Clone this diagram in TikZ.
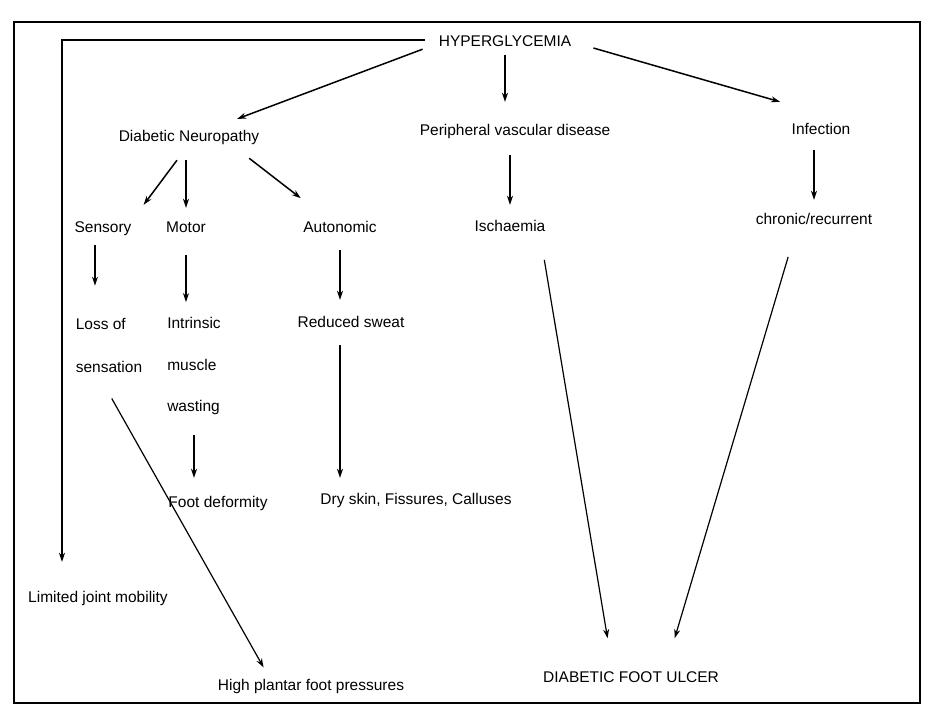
\documentclass[tikz,border=0pt]{standalone}
\usepackage{fontspec}
\setmainfont{Liberation Sans}
\usepackage{tikz}
\usetikzlibrary{arrows.meta,positioning}

\begin{document}
\begin{tikzpicture}[
  x=1pt, y=1pt,
  txt/.style={inner sep=0pt, font=\fontsize{15.5}{18}\selectfont,
    text height=11pt, text depth=3pt},
  stack/.style={inner sep=0pt, font=\fontsize{15.5}{18}\selectfont, align=left},
  arrow/.style={-{Stealth[length=9pt,width=6pt]}, line width=1.5pt},
  long/.style={-{Stealth[length=9pt,width=6pt]}, line width=1.2pt},
]
  \useasboundingbox (0,0) rectangle (927,-712);
  \draw[line width=1.8pt] (14,-22) rectangle (920,-703);

  % top row
  \node[txt] (hyper) at (505,-42) {HYPERGLYCEMIA};
  \node[txt] (neuro) at (189,-137) {Diabetic Neuropathy};
  \node[txt] (pvd) at (515,-131) {Peripheral vascular disease};
  \node[txt] (infect) at (821,-130) {Infection};

  % neuropathy branches
  \node[txt] (sensory) at (103,-228) {Sensory};
  \node[txt] (motor) at (186,-228) {Motor};
  \node[txt] (auto) at (340,-228) {Autonomic};
  \node[txt] (isch) at (510,-227) {Ischaemia};
  \node[txt] (chronic) at (814,-220) {chronic/recurrent};

  \node[stack] (loss) at (109,-345) {Loss of\\[25pt]sensation};
  \node[stack] (intr) at (194,-366) {Intrinsic\\[24pt]muscle\\[23pt]wasting};
  \node[txt] (reduced) at (351,-323) {Reduced sweat};

  \node[txt] (deform) at (218,-503) {Foot deformity};
  \node[txt] (dry) at (416,-500) {Dry skin, Fissures, Calluses};
  \node[txt] (limited) at (98,-598) {Limited joint mobility};
  \node[txt] (high) at (311,-686) {High plantar foot pressures};
  \node[txt] (dfu) at (631,-678) {DIABETIC FOOT ULCER};

  % connectors
  \draw[arrow, shorten <=14pt, shorten >=29pt] ([yshift=2pt]hyper.west) -| ([xshift=-36pt]limited.north);
  \draw[arrow, shorten >=31pt] ([xshift=-16pt]hyper.south west) -- (neuro);
  \draw[arrow, shorten <=6pt, shorten >=22pt] (hyper.south) -- (hyper.south |- pvd.north);
  \draw[arrow] ([shift={(22pt,-6pt)}]hyper.east) -- ([shift={(-41pt,21pt)}]infect.north);

  \draw[arrow, shorten <=20pt, shorten >=20pt] (neuro.south) -- (sensory.north east);
  \draw[arrow, shorten <=16pt, shorten >=13pt] (motor.north |- neuro.south) -- (motor.north);
  \draw[arrow, shorten <=23pt, shorten >=37pt] ([xshift=42pt]neuro.south) -- ([xshift=-10pt]auto.north);
  \draw[arrow, shorten <=17pt, shorten >=15pt] (isch.north |- pvd.south) -- (isch.north);
  \draw[arrow, shorten <=13pt, shorten >=13pt] (chronic.north |- infect.south) -- (chronic.north);

  \draw[arrow, shorten <=10pt, shorten >=32pt] ([xshift=-8pt]sensory.south) -- ([xshift=-8pt]sensory.south |- loss.north);
  \draw[arrow, shorten <=20pt, shorten >=15pt] (motor.south) -- (motor.south |- intr.north);
  \draw[arrow, shorten <=20pt, shorten >=18pt] (intr.south) -- (intr.south |- deform.north);
  \draw[arrow, shorten <=15pt, shorten >=16pt] (auto.south) -- (auto.south |- reduced.north);
  \draw[arrow, shorten <=15pt, shorten >=15pt] (auto.south |- reduced.south) -- (auto.south |- dry.north);

  \draw[long, shorten <=30pt, shorten >=13pt] ([xshift=-12pt]loss.south) -- ([xshift=-41pt]high.north);
  \draw[long, shorten <=26pt, shorten >=33pt] ([xshift=30pt]isch.south) -- ([xshift=-18pt]dfu.north);
  \draw[long, shorten <=31pt, shorten >=34pt] ([xshift=-17pt]chronic.south) -- ([xshift=34pt]dfu.north);
\end{tikzpicture}
\end{document}
